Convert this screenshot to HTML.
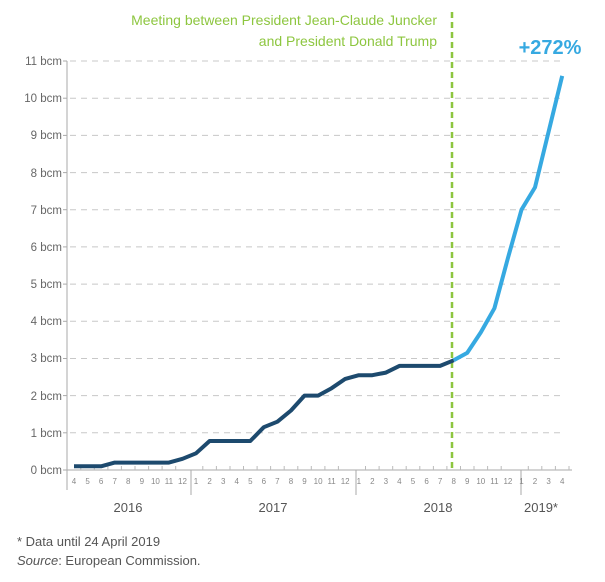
<!DOCTYPE html>
<html><head><meta charset="utf-8"><style>
body{margin:0;background:#fff;}
svg{display:block;font-family:"Liberation Sans","DejaVu Sans",sans-serif;}
</style></head><body>
<svg width="605" height="582" viewBox="0 0 605 582" xmlns="http://www.w3.org/2000/svg">
<g stroke="#c8c8c8" stroke-width="1" stroke-dasharray="6,5">
<line x1="70" y1="61" x2="565" y2="61"/>
<line x1="70" y1="98.2" x2="565" y2="98.2"/>
<line x1="70" y1="135.4" x2="565" y2="135.4"/>
<line x1="70" y1="172.6" x2="565" y2="172.6"/>
<line x1="70" y1="209.7" x2="565" y2="209.7"/>
<line x1="70" y1="246.9" x2="565" y2="246.9"/>
<line x1="70" y1="284.1" x2="565" y2="284.1"/>
<line x1="70" y1="321.3" x2="565" y2="321.3"/>
<line x1="70" y1="358.5" x2="565" y2="358.5"/>
<line x1="70" y1="395.6" x2="565" y2="395.6"/>
<line x1="70" y1="432.8" x2="565" y2="432.8"/>
</g>
<g stroke="#aaa" stroke-width="1">
<line x1="67" y1="61" x2="67" y2="490"/>
<line x1="67" y1="470" x2="572" y2="470"/>
<line x1="191" y1="470" x2="191" y2="495"/>
<line x1="356" y1="470" x2="356" y2="495"/>
<line x1="521" y1="470" x2="521" y2="495"/>
<line x1="63" y1="61" x2="67" y2="61"/><line x1="63" y1="98.2" x2="67" y2="98.2"/><line x1="63" y1="135.4" x2="67" y2="135.4"/><line x1="63" y1="172.6" x2="67" y2="172.6"/><line x1="63" y1="209.7" x2="67" y2="209.7"/><line x1="63" y1="246.9" x2="67" y2="246.9"/><line x1="63" y1="284.1" x2="67" y2="284.1"/><line x1="63" y1="321.3" x2="67" y2="321.3"/><line x1="63" y1="358.5" x2="67" y2="358.5"/><line x1="63" y1="395.6" x2="67" y2="395.6"/><line x1="63" y1="432.8" x2="67" y2="432.8"/><line x1="63" y1="470" x2="67" y2="470"/>
</g>
<g stroke="#bbb" stroke-width="1">
<path d="M80.8 466v4M94.3 466v4M107.9 466v4M121.4 466v4M135 466v4M148.6 466v4M162.1 466v4M175.7 466v4M202.8 466v4M216.4 466v4M230 466v4M243.5 466v4M257.1 466v4M270.6 466v4M284.2 466v4M297.8 466v4M311.3 466v4M324.9 466v4M338.4 466v4M365.5 466v4M379.1 466v4M392.7 466v4M406.2 466v4M419.8 466v4M433.4 466v4M446.9 466v4M460.5 466v4M474 466v4M487.6 466v4M501.2 466v4M528.3 466v4M541.8 466v4M555.4 466v4M569 466v4"/>
</g>
<g font-size="11.5" fill="#666" text-anchor="end">
<text x="62" y="65">11 bcm</text><text x="62" y="102">10 bcm</text><text x="62" y="139">9 bcm</text><text x="62" y="177">8 bcm</text><text x="62" y="214">7 bcm</text><text x="62" y="251">6 bcm</text><text x="62" y="288">5 bcm</text><text x="62" y="325">4 bcm</text><text x="62" y="362">3 bcm</text><text x="62" y="400">2 bcm</text><text x="62" y="437">1 bcm</text><text x="62" y="474">0 bcm</text>
</g>
<g font-size="8" fill="#888" text-anchor="middle">
<text x="74" y="484">4</text><text x="87.6" y="484">5</text><text x="101.1" y="484">6</text><text x="114.7" y="484">7</text><text x="128.2" y="484">8</text><text x="141.8" y="484">9</text><text x="155.4" y="484">10</text><text x="168.9" y="484">11</text><text x="182.5" y="484">12</text>
<text x="196" y="484">1</text><text x="209.6" y="484">2</text><text x="223.2" y="484">3</text><text x="236.7" y="484">4</text><text x="250.3" y="484">5</text><text x="263.8" y="484">6</text><text x="277.4" y="484">7</text><text x="291" y="484">8</text><text x="304.5" y="484">9</text><text x="318.1" y="484">10</text><text x="331.6" y="484">11</text><text x="345.2" y="484">12</text>
<text x="358.8" y="484">1</text><text x="372.3" y="484">2</text><text x="385.9" y="484">3</text><text x="399.4" y="484">4</text><text x="413" y="484">5</text><text x="426.6" y="484">6</text><text x="440.1" y="484">7</text><text x="453.7" y="484">8</text><text x="467.2" y="484">9</text><text x="480.8" y="484">10</text><text x="494.4" y="484">11</text><text x="507.9" y="484">12</text>
<text x="521.5" y="484">1</text><text x="535" y="484">2</text><text x="548.6" y="484">3</text><text x="562.2" y="484">4</text>
</g>
<g font-size="13" fill="#555" text-anchor="middle">
<text x="128" y="512">2016</text><text x="273" y="512">2017</text><text x="438" y="512">2018</text><text x="541" y="512">2019*</text>
</g>
<line x1="452" y1="12" x2="452" y2="470" stroke="#8dc63f" stroke-width="2.5" stroke-dasharray="6,4"/>
<g font-size="14" fill="#8dc63f" text-anchor="end">
<text x="437" y="25">Meeting between President Jean-Claude Juncker</text>
<text x="437" y="46">and President Donald Trump</text>
</g>
<text x="550" y="54" font-size="20" font-weight="bold" fill="#36a9e1" text-anchor="middle">+272%</text>
<polyline fill="none" stroke="#36a9e1" stroke-width="4" stroke-linejoin="round" points="453.7,360.3 467.2,352.9 480.8,332.4 494.4,308.3 507.9,258.1 521.5,209.7 535,187.4 548.6,131.7 562.2,75.9"/>
<polyline fill="none" stroke="#1d4a6e" stroke-width="4" stroke-linejoin="round" points="74,466.3 87.6,466.3 101.1,466.3 114.7,462.6 128.2,462.6 141.8,462.6 155.4,462.6 168.9,462.6 182.5,458.8 196,453.3 209.6,441 223.2,441 236.7,441 250.3,441 263.8,427.2 277.4,421.7 291,410.5 304.5,395.6 318.1,395.6 331.6,388.2 345.2,378.9 358.8,375.2 372.3,375.2 385.9,372.6 399.4,365.9 413,365.9 426.6,365.9 440.1,365.9 453.7,360.3"/>
<g font-size="13" fill="#555">
<text x="17" y="546">* Data until 24 April 2019</text>
<text x="17" y="565"><tspan font-style="italic">Source</tspan>: European Commission.</text>
</g>
</svg>
</body></html>
